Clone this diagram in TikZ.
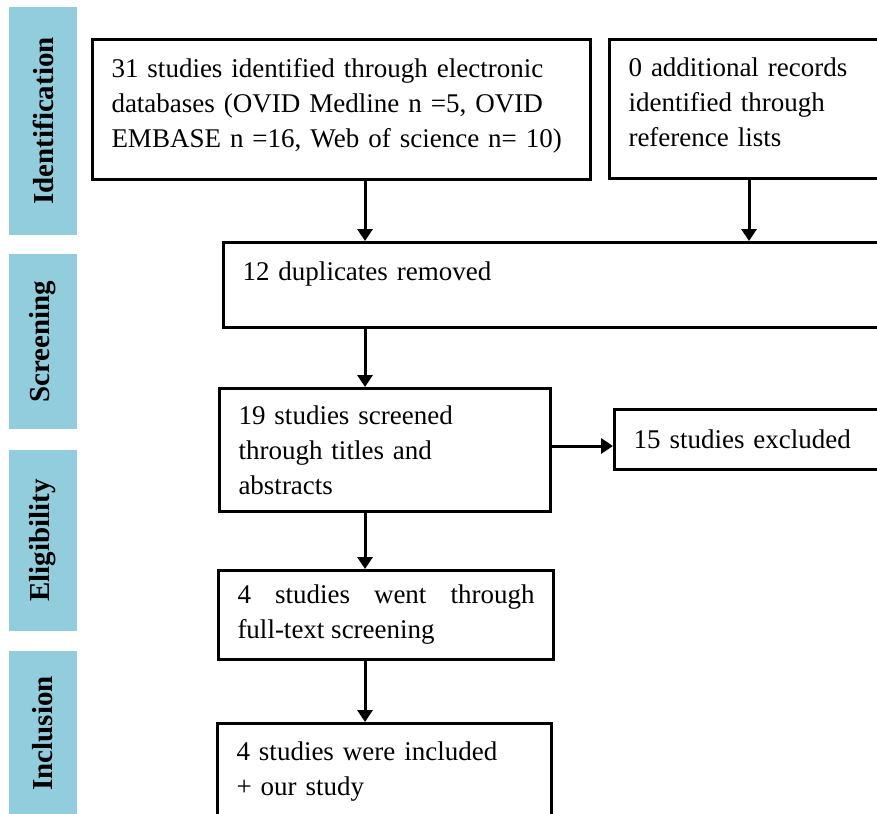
\documentclass[tikz,border=0pt]{standalone}
\usepackage{fontspec}
\setmainfont{Liberation Serif}
\usetikzlibrary{arrows.meta,positioning}
\definecolor{stageblue}{RGB}{146,205,221}
\tikzset{%
	stage/.style={rectangle, fill=stageblue, rotate=90, minimum height=68pt, inner sep=0pt, font=\fontsize{29}{34}\selectfont\bfseries},
	box/.style={rectangle, draw=black, line width=3pt, anchor=north west, align=left, inner xsep=19pt, inner ysep=0pt, font=\fontsize{27}{35}\selectfont},
	arr/.style={draw=black, line width=3pt, -{Triangle[length=12pt,width=15pt]}}
}

\begin{document}
\begin{tikzpicture}[x=1pt,y=-1pt]
	\useasboundingbox (0,0) rectangle (877,813);
	\clip (0,0) rectangle (877,813);

	\node[stage, minimum width=228pt] (identif) at (43,121) {Identification};
	\node[stage, minimum width=175pt] (screening) at (43,341.5) {Screening};
	\node[stage, minimum width=181pt] (eligib) at (43,540.5) {Eligibility};
	\node[stage, minimum width=165pt] (inclus) at (43,733.5) {Inclusion};

	\node[box, text width=460pt, minimum height=140pt, text depth=84pt] (ident) at (91,38) {31 studies identified through electronic\\databases (OVID Medline n =5, OVID\\EMBASE n =16, Web of science n= 10)};
	\node[box, text width=362pt, minimum height=139pt, text depth=84pt] (refs) at (608,38) {0 additional records\\identified through\\reference lists};
	\node[box, text width=700pt, minimum height=85pt, text depth=28pt] (dup) at (222,241) {12 duplicates removed};
	\node[box, text width=293pt, minimum height=123pt] (screen) at (218,387) {19 studies screened\\through titles and\\abstracts};
	\node[box, text width=400pt, minimum height=60pt] (excl) at (613,408) {15 studies excluded};
	\node[box, text width=297pt, minimum height=89pt, align=justify] (fulltext) at (217,569) {4 studies went through\linebreak full-text screening};
	\node[box, text width=296pt, minimum height=96pt] (incl) at (216,722) {4 studies were included\\+ our study};

	\coordinate (col) at (365,0);
	\coordinate (refcol) at (749,0);
	\path[arr] (ident.south -| col) -- (dup.north -| col);
	\path[arr] (refs.south -| refcol) -- (dup.north -| refcol);
	\path[arr] (dup.south -| col) -- (screen.north -| col);
	\path[arr] ([yshift=4pt]screen.east) -- ([yshift=4pt]screen.east -| excl.west);
	\path[arr] (screen.south -| col) -- (fulltext.north -| col);
	\path[arr] (fulltext.south -| col) -- (incl.north -| col);
\end{tikzpicture}
\end{document}
